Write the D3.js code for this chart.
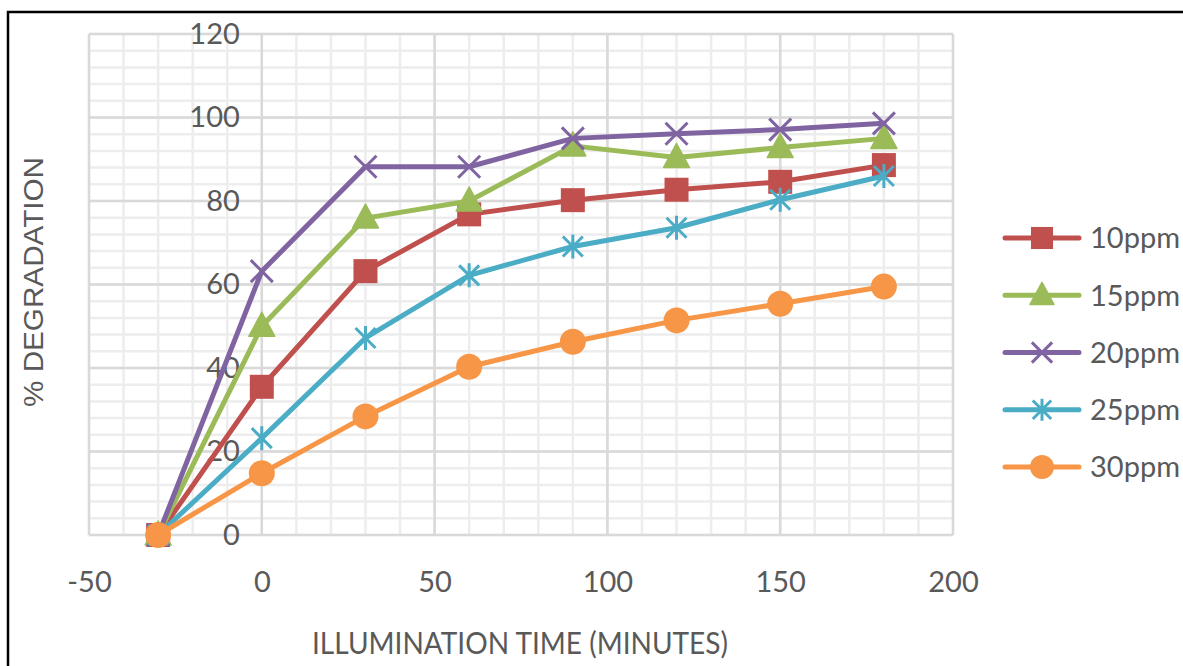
<!DOCTYPE html>
<html>
<head>
<meta charset="utf-8">
<script src="https://cdn.jsdelivr.net/npm/d3@7"></script>
<style>
  html, body { margin: 0; padding: 0; background: #fff; }
  svg { display: block; }
</style>
</head>
<body>
<svg id="chart" width="1183" height="666"></svg>
<script>
// Illumination time (minutes) at which samples were taken
const times = [-30, 0, 30, 60, 90, 120, 150, 180];

// % degradation for each dye concentration
const deg10 = [0, 35.5, 63.2, 76.8, 80.2, 82.7, 84.6, 88.6];
const deg15 = [0, 50.0, 75.9, 80.0, 93.2, 90.4, 92.8, 95.0];
const deg20 = [0, 63.2, 88.2, 88.2, 95.0, 96.1, 97.1, 98.6];
const deg25 = [0, 23.2, 47.2, 62.2, 69.1, 73.6, 80.3, 86.0];
const deg30 = [0, 14.8, 28.4, 40.3, 46.3, 51.4, 55.4, 59.5];

const seriesNames = ["10ppm", "15ppm", "20ppm", "25ppm", "30ppm"];
const seriesValues = [deg10, deg15, deg20, deg25, deg30];

// Axis tick labels
const xTicks = [-50, 0, 50, 100, 150, 200];
const yTicks = [0, 20, 40, 60, 80, 100, 120];

const colors = ["#C0504D", "#9BBB59", "#8064A2", "#4BACC6", "#F79646"];
const markers = ["square", "triangle", "cross", "star", "circle"];

const svg = d3.select("#chart");

// Outer frame (top and left edges visible)
svg.append("rect")
  .attr("x", 8).attr("y", 12)
  .attr("width", 1200).attr("height", 700)
  .attr("fill", "#fff")
  .attr("stroke", "#000").attr("stroke-width", 2.5);

const x = d3.scaleLinear().domain([-50, 200]).range([89, 953]);
const y = d3.scaleLinear().domain([0, 120]).range([535, 34]);

// Gridlines: minor first, then major
const grid = svg.append("g");
const xMinor = d3.range(-50, 201, 10);
const yMinor = d3.range(0, 121, 4);

grid.selectAll(".vminor").data(xMinor).join("line")
  .attr("x1", d => x(d)).attr("x2", d => x(d))
  .attr("y1", y(0)).attr("y2", y(120))
  .attr("stroke", "#EDEDED").attr("stroke-width", 2.5);
grid.selectAll(".hminor").data(yMinor).join("line")
  .attr("y1", d => y(d)).attr("y2", d => y(d))
  .attr("x1", x(-50)).attr("x2", x(200))
  .attr("stroke", "#EDEDED").attr("stroke-width", 2.5);
grid.selectAll(".vmajor").data(xTicks).join("line")
  .attr("x1", d => x(d)).attr("x2", d => x(d))
  .attr("y1", y(0)).attr("y2", y(120))
  .attr("stroke", "#D9D9D9").attr("stroke-width", 2.5);
grid.selectAll(".hmajor").data(yTicks).join("line")
  .attr("y1", d => y(d)).attr("y2", d => y(d))
  .attr("x1", x(-50)).attr("x2", x(200))
  .attr("stroke", "#D9D9D9").attr("stroke-width", 2.5);

// Axes (labels only; the frame comes from the gridlines)
const tickFont = "Lato, 'Open Sans', sans-serif";
const yAxis = svg.append("g")
  .attr("transform", `translate(${x(0)},0)`)
  .call(d3.axisLeft(y).tickValues(yTicks).tickSize(0).tickPadding(22).tickFormat(d => String(d)));
const xAxis = svg.append("g")
  .attr("transform", `translate(0,${y(0)})`)
  .call(d3.axisBottom(x).tickValues(xTicks).tickSize(0).tickPadding(36).tickFormat(d => String(d)));
[yAxis, xAxis].forEach(a => {
  a.select(".domain").remove();
  a.selectAll("text")
    .attr("fill", "#595959")
    .style("font-family", tickFont)
    .style("font-size", "29px");
});

// Axis titles
svg.append("text")
  .attr("x", 520).attr("y", 654)
  .attr("text-anchor", "middle")
  .attr("textLength", 416).attr("lengthAdjust", "spacingAndGlyphs")
  .attr("fill", "#595959")
  .style("font-family", tickFont).style("font-size", "31px")
  .text("ILLUMINATION TIME (MINUTES)");

svg.append("text")
  .attr("transform", "translate(43,282) rotate(-90)")
  .attr("text-anchor", "middle")
  .attr("textLength", 250).attr("lengthAdjust", "spacingAndGlyphs")
  .attr("fill", "#595959")
  .style("font-family", "'Liberation Sans', Arial, sans-serif").style("font-size", "27px")
  .text("% DEGRADATION");

// Marker drawing
function drawMarker(g, type, color, s) {
  if (type === "square") {
    g.append("rect").attr("x", -12 * s).attr("y", -12 * s)
      .attr("width", 24 * s).attr("height", 24 * s).attr("fill", color);
  } else if (type === "triangle") {
    g.append("path")
      .attr("d", `M0,${-14 * s}L${13 * s},${10 * s}L${-13 * s},${10 * s}Z`)
      .attr("fill", color).attr("stroke", color).attr("stroke-width", 1.5).attr("stroke-linejoin", "round");
  } else if (type === "circle") {
    g.append("circle").attr("r", 13 * s).attr("fill", color);
  } else if (type === "cross") {
    const h = 11 * s;
    g.append("path")
      .attr("d", `M${-h},${-h}L${h},${h}M${-h},${h}L${h},${-h}`)
      .attr("stroke", color).attr("stroke-width", 3).attr("fill", "none");
  } else if (type === "star") {
    const h = 10 * s, v = 12 * s;
    g.append("path")
      .attr("d", `M${-h},${-h}L${h},${h}M${-h},${h}L${h},${-h}M0,${-v}L0,${v}`)
      .attr("stroke", color).attr("stroke-width", 3).attr("fill", "none");
  }
}

// Series lines with markers
const line = d3.line().x(d => x(d[0])).y(d => y(d[1]));
seriesValues.forEach((vals, i) => {
  const pts = times.map((t, j) => [t, vals[j]]);
  const g = svg.append("g");
  g.append("path")
    .attr("d", line(pts))
    .attr("fill", "none")
    .attr("stroke", colors[i]).attr("stroke-width", 5)
    .attr("stroke-linejoin", "round").attr("stroke-linecap", "round");
  pts.forEach(p => {
    const m = g.append("g").attr("transform", `translate(${x(p[0])},${y(p[1])})`);
    drawMarker(m, markers[i], colors[i], 1);
  });
});

// Legend
const legendY = d3.scalePoint().domain(seriesNames).range([238, 467]);
seriesNames.forEach((name, i) => {
  const cy = legendY(name);
  const g = svg.append("g").attr("transform", `translate(0,${cy})`);
  g.append("line").attr("x1", 1005).attr("x2", 1079).attr("y1", 0).attr("y2", 0)
    .attr("stroke", colors[i]).attr("stroke-width", 5).attr("stroke-linecap", "round");
  const m = g.append("g").attr("transform", "translate(1042,0)");
  drawMarker(m, markers[i], colors[i], 0.92);
  g.append("text").attr("x", 1090).attr("y", 0).attr("dy", "0.36em")
    .attr("fill", "#595959")
    .style("font-family", tickFont).style("font-size", "29px")
    .text(name);
});
</script>
</body>
</html>
